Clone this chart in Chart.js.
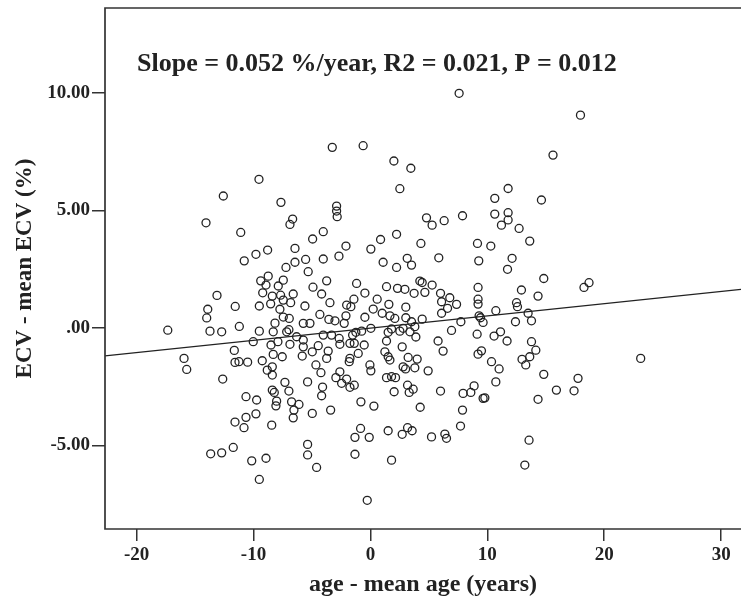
<!DOCTYPE html>
<html>
<head>
<meta charset="utf-8">
<script src="https://cdn.jsdelivr.net/npm/chart.js@4.4.1/dist/chart.umd.min.js"></script>
<style>
  html, body { margin: 0; padding: 0; background: #fff; }
  #chartCanvas { display: block; }
</style>
</head>
<body>
<canvas id="chartCanvas" width="741" height="608"></canvas>
<script>
// x = age - mean age (years), y = ECV - mean ECV (%)
const ecvPoints = [
  // upper part
  [-9.53,6.33],[-12.58,5.62],[-7.65,5.35],[-14.06,4.48],[-6.65,4.64],[-6.88,4.41],
  [7.59,9.99],[-3.26,7.69],[-0.62,7.76],[2.01,7.11],[3.46,6.80],[2.52,5.93],
  [-2.89,5.19],[-2.89,4.98],[-2.84,4.74],[4.80,4.69],[5.28,4.38],[6.31,4.57],[7.88,4.78],
  [17.97,9.06],[15.62,7.36],[11.78,5.94],[10.64,5.52],[14.63,5.45],[10.64,4.85],
  [11.78,4.91],[11.78,4.60],[11.21,4.38],[12.72,4.24],
  // middle, left
  [-11.09,4.07],[-4.94,3.79],[-8.79,3.32],[-9.79,3.14],[-10.79,2.86],[-6.45,3.39],
  [-5.54,2.92],[-6.45,2.80],[-7.22,2.58],[-5.32,2.40],[-8.74,2.21],[-9.38,2.01],
  [-7.45,2.04],[-8.93,1.83],[-7.88,1.79],[-9.21,1.50],[-4.91,1.74],[-13.12,1.39],
  [-8.39,1.36],[-7.68,1.40],[-6.60,1.45],[-8.53,1.03],[-7.45,1.19],[-6.82,1.08],
  [-7.74,0.80],[-5.60,0.94],[-9.50,0.94],[-11.56,0.92],[-13.91,0.80],[-14.00,0.43],
  [-7.45,0.47],[-6.94,0.41],[-8.16,0.21],[-5.74,0.20],[-5.17,0.20],[-11.21,0.07],
  [-17.33,-0.09],[-13.72,-0.13],[-12.72,-0.16],[-9.50,-0.13],[-8.31,-0.16],[-7.16,-0.16],
  [-6.97,-0.07],[-6.31,-0.37],[-10.02,-0.58],[-7.91,-0.58],[-8.50,-0.72],[-6.88,-0.69],
  [-5.74,-0.51],[-5.74,-0.80],[-4.46,-0.75],[-4.97,-1.01],[-11.64,-0.95],[-15.94,-1.29],
  [-8.31,-1.12],[-7.54,-1.22],[-5.83,-1.19],[-15.71,-1.76],[-11.58,-1.46],[-11.24,-1.43],
  [-10.50,-1.45],[-9.25,-1.39],[-8.82,-1.79],[-8.39,-1.65],[-8.39,-2.00],[-4.66,-1.57],
  [-12.63,-2.17],
  // middle, centre
  [-4.03,4.10],[2.24,3.99],[-2.09,3.49],[0.87,3.77],[0.04,3.36],[4.32,3.60],[9.16,3.60],
  [10.30,3.49],[-4.03,2.94],[-2.69,3.06],[1.09,2.80],[2.24,2.58],[3.15,2.97],[3.52,2.68],
  [5.85,2.99],[9.27,2.86],[-3.74,2.01],[-1.18,1.90],[1.38,1.76],[2.32,1.69],[2.95,1.65],
  [4.23,2.00],[4.43,1.94],[5.28,1.83],[3.74,1.48],[4.66,1.52],[6.00,1.48],[9.21,1.73],
  [-4.17,1.45],[-0.47,1.49],[-3.46,1.08],[-1.41,1.23],[0.58,1.23],[1.58,1.01],[3.03,0.89],
  [6.09,1.12],[6.79,1.29],[7.37,1.01],[6.60,0.84],[9.21,1.23],[9.21,1.02],[-4.32,0.58],
  [-2.03,0.98],[-1.67,0.91],[-2.09,0.52],[-0.47,0.46],[0.24,0.81],[1.01,0.63],[1.67,0.52],
  [2.09,0.41],[3.03,0.44],[4.43,0.38],[6.09,0.63],[7.74,0.27],[9.30,0.52],[9.42,0.44],
  [9.64,0.24],[-3.55,0.37],[-3.03,0.31],[-2.24,0.20],[3.52,0.27],[3.80,0.06],[-4.03,-0.30],
  [-3.32,-0.30],[-2.67,-0.44],[-1.52,-0.30],[-1.24,-0.18],[-0.75,-0.13],[0.04,-0.01],
  [1.52,-0.18],[1.81,-0.04],[2.52,-0.13],[2.80,-0.01],[3.38,-0.16],[3.89,-0.38],[6.94,-0.10],
  [9.13,-0.26],[10.58,-0.34],[-3.61,-0.98],[-2.61,-0.69],[-1.75,-0.65],[-1.38,-0.65],
  [-0.53,-0.72],[1.38,-0.55],[2.72,-0.80],[5.79,-0.55],[6.22,-0.98],[1.24,-1.01],[1.52,-1.22],
  [-1.04,-1.08],[-3.74,-1.29],[-1.75,-1.29],[-1.81,-1.43],[1.67,-1.36],[3.23,-1.25],
  [4.00,-1.32],[9.21,-1.11],[9.50,-0.97],[10.36,-1.43],[-4.23,-1.90],[-2.61,-1.86],
  [-2.95,-2.11],[-2.03,-2.17],[-0.04,-1.57],[0.04,-1.82],[2.80,-1.65],[3.01,-1.74],
  [3.80,-1.69],[4.94,-1.82],[1.38,-2.11],[1.81,-2.07],[2.15,-2.11],
  // middle, right
  [13.63,3.70],[12.12,2.97],[11.73,2.50],[14.83,2.11],[18.27,1.73],[18.70,1.93],[12.92,1.62],
  [14.34,1.36],[12.50,1.08],[12.58,0.91],[10.73,0.74],[13.49,0.63],[13.78,0.31],[12.41,0.27],
  [11.13,-0.16],[11.69,-0.55],[13.78,-0.58],[14.15,-0.94],[13.63,-1.22],[12.97,-1.33],
  [13.29,-1.57],[11.01,-1.74],[23.12,-1.29],[14.83,-1.97],[17.76,-2.14],
  // lower, left
  [-7.31,-2.31],[-5.37,-2.29],[-8.39,-2.64],[-8.22,-2.74],[-6.97,-2.68],[-10.64,-2.92],
  [-9.73,-3.06],[-8.02,-3.11],[-8.08,-3.31],[-6.74,-3.14],[-6.11,-3.25],[-6.54,-3.49],
  [-6.60,-3.82],[-4.97,-3.63],[-9.79,-3.65],[-10.64,-3.80],[-11.58,-4.00],[-10.81,-4.24],
  [-8.44,-4.13],[-5.37,-4.95],[-5.37,-5.40],[-4.60,-5.93],[-11.73,-5.08],[-12.72,-5.31],
  [-13.66,-5.35],[-10.15,-5.65],[-8.93,-5.54],[-9.50,-6.44],
  // lower, centre
  [-4.09,-2.51],[-4.17,-2.88],[-2.46,-2.35],[-1.75,-2.52],[-1.38,-2.43],[-3.40,-3.49],
  [-0.81,-3.14],[0.30,-3.32],[2.03,-2.71],[3.18,-2.43],[3.32,-2.74],[3.66,-2.60],[4.26,-3.37],
  [6.00,-2.68],[7.93,-2.78],[8.59,-2.74],[8.87,-2.46],[9.64,-2.99],[9.79,-2.97],[7.88,-3.49],
  [7.71,-4.17],[-0.84,-4.27],[-1.32,-4.65],[-0.10,-4.65],[1.52,-4.37],[2.72,-4.52],
  [3.18,-4.24],[3.57,-4.37],[5.23,-4.63],[6.37,-4.51],[6.51,-4.69],[-1.32,-5.37],
  [1.81,-5.62],[-0.27,-7.33],
  // lower, right
  [10.73,-2.29],[15.91,-2.64],[17.42,-2.67],[14.34,-3.03],[13.57,-4.77],[13.21,-5.83]
];

// fitted line end points, read at the plot edges
const fitLine = [[-22.7, -1.18], [31.7, 1.65]];

const xTicks = [-20, -10, 0, 10, 20, 30];
const yTicks = [-5, 0, 5, 10];
const yTickLabels = ['-5.00', '.00', '5.00', '10.00'];

const statsText = 'Slope = 0.052 %/year, R2 = 0.021, P = 0.012';
const xTitle = 'age - mean age (years)';
const yTitle = 'ECV - mean ECV (%)';

const serif = '"Liberation Serif", "Times New Roman", serif';
const ink = '#222';

const framePlugin = {
  id: 'frame',
  afterDraw(chart) {
    const { ctx, chartArea: a } = chart;
    ctx.save();
    ctx.strokeStyle = '#333';
    ctx.lineWidth = 1.7;
    ctx.beginPath();
    ctx.moveTo(a.right + 2, a.top);
    ctx.lineTo(a.left, a.top);
    ctx.lineTo(a.left, a.bottom);
    ctx.lineTo(a.right + 2, a.bottom);
    ctx.stroke();
    ctx.fillStyle = ink;
    ctx.font = 'bold 26px ' + serif;
    ctx.textAlign = 'left';
    ctx.textBaseline = 'middle';
    ctx.fillText(statsText, 137, 64);
    ctx.restore();
  }
};

const ctx = document.getElementById('chartCanvas').getContext('2d');
new Chart(ctx, {
  type: 'scatter',
  data: {
    datasets: [
      {
        data: ecvPoints.map(p => ({ x: p[0], y: p[1] })),
        pointStyle: 'circle',
        pointRadius: 4,
        pointBorderWidth: 1.3,
        pointBorderColor: ink,
        pointBackgroundColor: 'rgba(0,0,0,0)'
      },
      {
        type: 'line',
        data: fitLine.map(p => ({ x: p[0], y: p[1] })),
        borderColor: ink,
        borderWidth: 1.3,
        pointRadius: 0,
        fill: false
      }
    ]
  },
  options: {
    responsive: false,
    animation: false,
    layout: { autoPadding: false, padding: { top: 8, right: 0, bottom: 0, left: 0 } },
    plugins: {
      legend: { display: false },
      tooltip: { enabled: false }
    },
    scales: {
      x: {
        type: 'linear',
        min: -22.7,
        max: 31.7,
        afterBuildTicks: s => { s.ticks = xTicks.map(v => ({ value: v })); },
        afterFit: s => { s.height = 79; s.paddingLeft = 0; s.paddingRight = 0; },
        border: { display: false },
        grid: { drawOnChartArea: false, tickLength: 12, color: '#333', lineWidth: 1.5 },
        ticks: {
          color: ink, padding: 3, maxRotation: 0,
          font: { family: serif, size: 19, weight: 'bold' }
        },
        title: {
          display: true, text: xTitle, color: ink,
          font: { family: serif, size: 24, weight: 'bold' },
          padding: { top: 0, bottom: 9 }
        }
      },
      y: {
        type: 'linear',
        min: -8.55,
        max: 13.62,
        afterBuildTicks: s => { s.ticks = yTicks.map(v => ({ value: v })); },
        afterFit: s => { s.width = 105; s.paddingTop = 0; s.paddingBottom = 0; },
        border: { display: false },
        grid: { drawOnChartArea: false, tickLength: 13, color: '#333', lineWidth: 1.5 },
        ticks: {
          color: ink, padding: 2,
          font: { family: serif, size: 19, weight: 'bold' },
          callback: v => yTickLabels[yTicks.indexOf(v)]
        },
        title: {
          display: true, text: yTitle, color: ink,
          font: { family: serif, size: 23, weight: 'bold' },
          padding: { top: 11, bottom: 0 }
        }
      }
    }
  },
  plugins: [framePlugin]
});
</script>
</body>
</html>
